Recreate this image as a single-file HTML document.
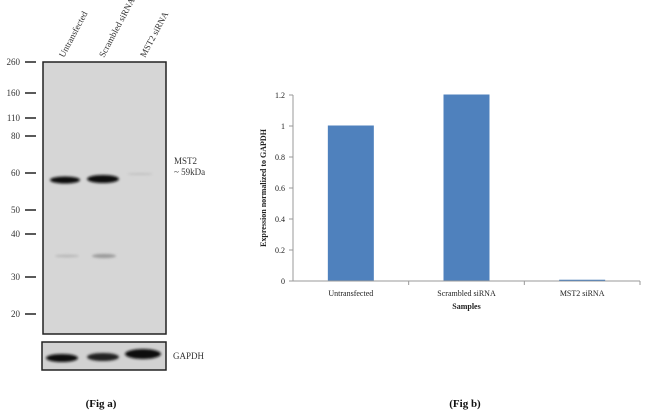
<!DOCTYPE html>
<html><head><meta charset="utf-8"><style>
body{margin:0;background:#fff;width:650px;height:418px;overflow:hidden;font-family:"Liberation Serif",serif;}
svg{position:absolute;left:0;top:0}
</style></head><body>
<svg width="650" height="418">
<defs>
<filter id="blur" x="-20%" y="-50%" width="140%" height="200%"><feGaussianBlur stdDeviation="1.3"/></filter>
</defs>
<g>
<rect x="43" y="62" width="123" height="272" fill="#d6d6d6" stroke="#222" stroke-width="1.5"/>
<rect x="42" y="342" width="124" height="28" fill="#d2d2d2" stroke="#222" stroke-width="1.5"/>
<g filter="url(#blur)">
<ellipse cx="65" cy="180" rx="15" ry="3.5" fill="#111"/>
<ellipse cx="103" cy="179" rx="16" ry="4" fill="#111"/>
<ellipse cx="140" cy="174" rx="13" ry="0.8" fill="#bbb"/>
<ellipse cx="104" cy="256" rx="12" ry="2" fill="#999"/>
<ellipse cx="67" cy="256" rx="12" ry="1.2" fill="#b5b5b5"/>
<ellipse cx="62" cy="358" rx="16" ry="4" fill="#111"/>
<ellipse cx="103" cy="357" rx="16" ry="4" fill="#222"/>
<ellipse cx="143" cy="354" rx="18" ry="5" fill="#111"/>
</g>
<g font-size="9" fill="#333" text-anchor="end">
<text x="20" y="65">260</text><line x1="25" y1="62" x2="36" y2="62" stroke="#222" stroke-width="1.5"/>
<text x="20" y="96">160</text><line x1="25" y1="93" x2="36" y2="93" stroke="#222" stroke-width="1.5"/>
<text x="20" y="121">110</text><line x1="25" y1="118" x2="36" y2="118" stroke="#222" stroke-width="1.5"/>
<text x="20" y="139">80</text><line x1="25" y1="136" x2="36" y2="136" stroke="#222" stroke-width="1.5"/>
<text x="20" y="176">60</text><line x1="25" y1="173" x2="36" y2="173" stroke="#222" stroke-width="1.5"/>
<text x="20" y="213">50</text><line x1="25" y1="210" x2="36" y2="210" stroke="#222" stroke-width="1.5"/>
<text x="20" y="237">40</text><line x1="25" y1="234" x2="36" y2="234" stroke="#222" stroke-width="1.5"/>
<text x="20" y="280">30</text><line x1="25" y1="277" x2="36" y2="277" stroke="#222" stroke-width="1.5"/>
<text x="20" y="317">20</text><line x1="25" y1="314" x2="36" y2="314" stroke="#222" stroke-width="1.5"/>
</g>
<g font-size="9" fill="#333">
<text transform="translate(64,58) rotate(-62)">Untransfected</text>
<text transform="translate(104,58) rotate(-62)">Scrambled siRNA</text>
<text transform="translate(145,58) rotate(-62)">MST2 siRNA</text>
</g>
<text x="174" y="164" font-size="9" fill="#333">MST2</text>
<text x="174" y="175" font-size="9" fill="#333">~ 59kDa</text>
<text x="173" y="359" font-size="9" fill="#333">GAPDH</text>
<text x="101" y="407" font-size="11" font-weight="bold" text-anchor="middle" fill="#111">(Fig a)</text>
</g>
<g id="chart"></g>
<text x="465" y="407" font-size="11" font-weight="bold" text-anchor="middle" fill="#111">(Fig b)</text>
</svg>
<script>
const categories=["Untransfected","Scrambled siRNA","MST2 siRNA"];
const values=[1,1.2,0.005];
const ticks=[0,0.2,0.4,0.6,0.8,1,1.2];
const tickLabels=["0","0.2","0.4","0.6","0.8","1","1.2"];
const NS="http://www.w3.org/2000/svg";
const g=document.getElementById('chart');
const x0=293,x1=640,y0=281,yTop=95;
const y=v=>y0-(v/1.2)*(y0-yTop);
const bw=(x1-x0)/categories.length;
const xc=i=>x0+bw*(i+0.5);
function mk(t,a){const e=document.createElementNS(NS,t);for(const k in a)e.setAttribute(k,a[k]);g.appendChild(e);return e;}
let ax=mk('line',{x1:x0,y1:y0,x2:x1,y2:y0,stroke:'#999'});


let ay=mk('line',{x1:x0,y1:yTop,x2:x0,y2:y0,stroke:'#999'});


ticks.forEach((t,i)=>{
 const tl=mk('line',{x1:x0-4,y1:y(t),x2:x0,y2:y(t),stroke:'#999'});
 
 
 const tx=mk('text',{x:x0-8,y:y(t)+3,'font-size':8,'text-anchor':'end',fill:'#222'});
 tx.textContent=tickLabels[i];
 
 
});
categories.forEach((c,i)=>{
 const b=mk('rect',{x:xc(i)-23,y:y(values[i])-0.5,width:46,height:Math.max(1,y0-y(values[i])),fill:'#4f81bd'});
 
 
 const tk=mk('line',{x1:x0+bw*(i+1),y1:y0,x2:x0+bw*(i+1),y2:y0+4,stroke:'#999'});
 
 
 const l=mk('text',{x:xc(i),y:y0+15,'font-size':8,'text-anchor':'middle',fill:'#222'});
 l.textContent=c;
 
 
});
const xt=mk('text',{x:(x0+x1)/2,y:y0+28,'font-size':8,'font-weight':'bold','text-anchor':'middle',fill:'#222'});
xt.textContent='Samples';


const yt=mk('text',{transform:`translate(266,${(y0+yTop)/2}) rotate(-90)`,'font-size':8,'font-weight':'bold','text-anchor':'middle',fill:'#222'});
yt.textContent='Expression normalized to GAPDH';


</script>
</body></html>
